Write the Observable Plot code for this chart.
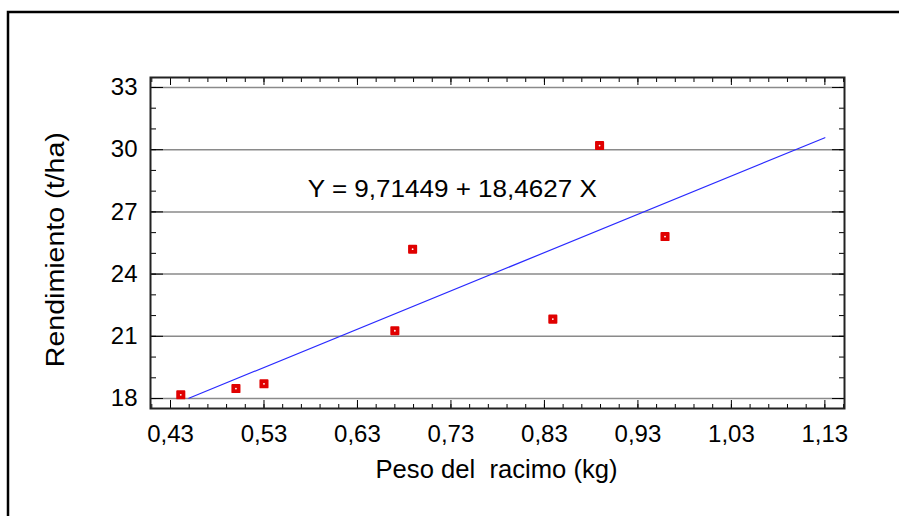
<!DOCTYPE html>
<html><head><meta charset="utf-8">
<script src="https://cdn.jsdelivr.net/npm/d3@7"></script>
<script src="https://cdn.jsdelivr.net/npm/@observablehq/plot@0.6"></script>
<style>
html,body{margin:0;padding:0;background:#fff;}
svg text{white-space:pre;}
</style></head><body><div id="chart"></div>
<script>
// Data
const pesoRacimo = [0.441, 0.500, 0.530, 0.670, 0.689, 0.839, 0.889, 0.959];
const rendimiento = [18.18, 18.48, 18.71, 21.27, 25.20, 21.83, 30.20, 25.81];
const intercept = 9.71449;
const slope = 18.4627;
const fitRange = [0.4496, 1.13];
const xTicks = [0.43, 0.53, 0.63, 0.73, 0.83, 0.93, 1.03, 1.13];
const yTicks = [18, 21, 24, 27, 30, 33];
const xMinorTicks = [0.41,0.43,0.45,0.47,0.49,0.51,0.53,0.55,0.57,0.59,0.61,0.63,0.65,0.67,0.69,0.71,0.73,0.75,0.77,0.79,0.81,0.83,0.85,0.87,0.89,0.91,0.93,0.95,0.97,0.99,1.01,1.03,1.05,1.07,1.09,1.11,1.13,1.15];
const yMinorTicks = [18,19,20,21,22,23,24,25,26,27,28,29,30,31,32,33];
const equationText = ["Y = 9,71449 + 18,4627 X"];
const equationX = [0.7314];
const equationY = [28.08];
const xLabel = ["Peso del  racimo (kg)"];
const yLabel = ["Rendimiento (t/ha)"];

const points = pesoRacimo.map((x, i) => ({x, y: rendimiento[i]}));
const equation = equationText.map((t, i) => ({t, x: equationX[i], y: equationY[i]}));
const fmt = d => d.toFixed(2).replace(".", ",");

const chart = Plot.plot({
  width: 899, height: 516,
  marginLeft: 150, marginRight: 55, marginTop: 77, marginBottom: 108,
  x: {domain: [0.4086, 1.151]},
  y: {domain: [17.52, 33.48]},
  style: {fontFamily: "'Liberation Sans', Arial, sans-serif", fontSize: "24px", color: "#000", background: "#fff"},
  marks: [
    Plot.ruleY(yTicks, {stroke: "#8a8a8a", strokeWidth: 1.5}),
    Plot.axisY(yMinorTicks, {anchor: "left", tickSize: -6, text: null, label: null, stroke: "#000"}),
    Plot.axisY(yMinorTicks, {anchor: "right", tickSize: -6, text: null, label: null, stroke: "#000"}),
    Plot.axisY(yTicks, {anchor: "left", tickSize: -13, text: null, label: null, stroke: "#000"}),
    Plot.axisY(yTicks, {anchor: "right", tickSize: -13, text: null, label: null, stroke: "#000"}),
    Plot.axisY(yTicks, {anchor: "left", tickSize: 0, tickPadding: 13, tickFormat: d => String(d), label: null, fontSize: 24}),
    Plot.axisX(xMinorTicks, {anchor: "bottom", tickSize: -4, text: null, label: null, stroke: "#000"}),
    Plot.axisX(xMinorTicks, {anchor: "top", tickSize: -4, text: null, label: null, stroke: "#000"}),
    Plot.axisX(xTicks, {anchor: "bottom", tickSize: -8, text: null, label: null, stroke: "#000"}),
    Plot.axisX(xTicks, {anchor: "top", tickSize: -7, text: null, label: null, stroke: "#000"}),
    Plot.axisX(xTicks, {anchor: "bottom", tickSize: 0, tickPadding: 16, tickFormat: fmt, label: null, fontSize: 24}),
    Plot.frame({stroke: "#222", strokeWidth: 2}),
    Plot.line(fitRange, {x: d => d, y: d => intercept + slope * d, stroke: "#2a2aff", strokeWidth: 1.2}),
    Plot.dot(points, {x: "x", y: "y", symbol: "square", r: 4.1, fill: "#e00000", stroke: "#e00000", strokeWidth: 1.8, strokeLinejoin: "round"}),
    Plot.dot(points, {x: "x", y: "y", r: 0.9, fill: "#fff"}),
    Plot.text(equation, {x: "x", y: "y", text: "t", fontSize: 24, textAnchor: "middle", lineAnchor: "middle", className: "eq"}),
    Plot.text(xLabel, {frameAnchor: "bottom", dy: 61, dx: -1, fontSize: 25, textAnchor: "middle", lineAnchor: "middle", className: "xlab"}),
    Plot.text(yLabel, {frameAnchor: "left", dx: -94.7, dy: 6.7, rotate: -90, fontSize: 25, textAnchor: "middle", lineAnchor: "middle", className: "ylab"})
  ]
});

const svg = d3.select(chart);
svg.selectAll(".eq text").attr("textLength", 289).attr("lengthAdjust", "spacingAndGlyphs");
svg.selectAll(".xlab text").attr("textLength", 242).attr("lengthAdjust", "spacingAndGlyphs");
svg.selectAll(".ylab text").attr("textLength", 235).attr("lengthAdjust", "spacingAndGlyphs");
svg.append("path").attr("d", "M8,516V12H899").attr("fill", "none").attr("stroke", "#000").attr("stroke-width", 2.5);

document.getElementById("chart").appendChild(chart);
</script>
</body></html>
